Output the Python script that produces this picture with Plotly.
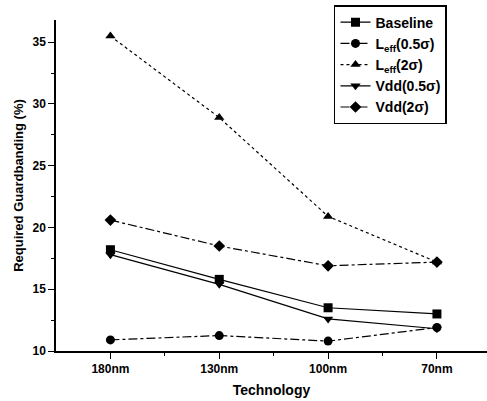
import plotly.graph_objects as go

categories = ["180nm", "130nm", "100nm", "70nm"]
baseline = [18.2, 15.8, 13.5, 13.0]
leff_05 = [10.9, 11.25, 10.8, 11.9]
leff_2 = [35.5, 28.9, 20.9, 17.2]
vdd_05 = [17.8, 15.4, 12.6, 11.8]
vdd_2 = [20.6, 18.5, 16.9, 17.2]

series = [
    ("<b>Baseline</b>", baseline, "square", "solid"),
    ("<b>L<sub>eff</sub>(0.5σ)</b>", leff_05, "circle", "dashdot"),
    ("<b>L<sub>eff</sub>(2σ)</b>", leff_2, "triangle-up", "dot"),
    ("<b>Vdd(0.5σ)</b>", vdd_05, "triangle-down", "solid"),
    ("<b>Vdd(2σ)</b>", vdd_2, "diamond", "dashdot"),
]

fig = go.Figure()
for name, vals, sym, dash in series:
    fig.add_trace(go.Scatter(
        x=list(range(len(categories))), y=vals, name=name, mode="lines+markers",
        line=dict(color="black", width=1.2, dash=dash),
        marker=dict(symbol=sym, size=9, color="black"),
    ))

font = "Liberation Sans, Arial, sans-serif"
fig.update_layout(
    width=487, height=401,
    margin=dict(l=56, r=0, t=20, b=50),
    paper_bgcolor="white", plot_bgcolor="white",
    font=dict(family=font, color="black", size=12),
    showlegend=True,
    legend=dict(
        x=0.645, y=1.045, xanchor="left", yanchor="top",
        bordercolor="black", borderwidth=1.5, bgcolor="white",
        font=dict(family=font, size=14, color="black"),
        tracegroupgap=0, itemwidth=30,
    ),
    xaxis=dict(
        range=[-0.5, 3.46], tickmode="array", tickvals=list(range(len(categories))),
        ticktext=[f"<b>{c}</b>" for c in categories],
        showline=True, linecolor="black", linewidth=1.5, showgrid=False, zeroline=False,
        ticks="outside", ticklen=6, tickwidth=1.2, tickcolor="black",
        minor=dict(tickmode="array", tickvals=[0.5, 1.5, 2.5], ticks="outside", ticklen=3, tickcolor="black", showgrid=False),
        title=dict(text="<b>Technology</b>", font=dict(size=14), standoff=10),
        tickfont=dict(size=12),
    ),
    yaxis=dict(
        range=[10, 36.8], tickmode="array", tickvals=[10, 15, 20, 25, 30, 35],
        ticktext=["<b>10</b>", "<b>15</b>", "<b>20</b>", "<b>25</b>", "<b>30</b>", "<b>35</b>"],
        showline=True, linecolor="black", linewidth=1.5, showgrid=False, zeroline=False,
        ticks="outside", ticklen=6, tickwidth=1.2, tickcolor="black",
        minor=dict(tickmode="array", tickvals=[12.5, 17.5, 22.5, 27.5, 32.5], ticks="outside", ticklen=3, tickcolor="black", showgrid=False),
        title=dict(text="<b>Required Guardbanding (%)</b>", font=dict(size=13), standoff=6),
        tickfont=dict(size=12),
    ),
)

fig.write_html("out.html")
